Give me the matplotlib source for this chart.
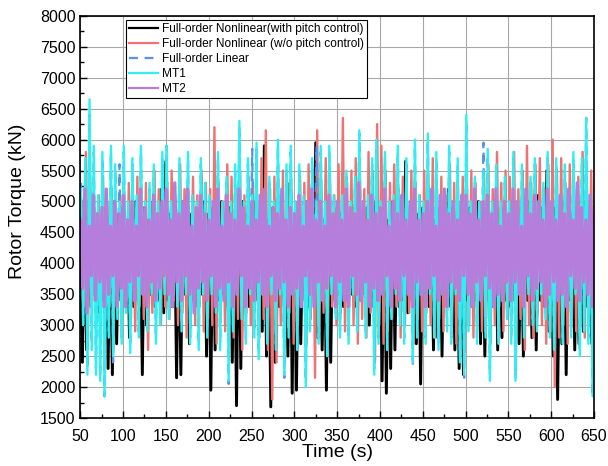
"""Rotor torque time histories: full-order nonlinear / linear models vs. MT1 and MT2."""
import matplotlib
matplotlib.use("Agg")
import matplotlib.pyplot as plt
import numpy as np
from matplotlib.ticker import MultipleLocator

# ── data: envelope, peak at t = 50 + 5k, trough at t = 52.5 + 5k
t_peak = [50 + 5 * k for k in range(121)]
t_trough = [52.5 + 5 * k for k in range(120)]

black_hi = [
    4800, 4900, 4700, 5000, 4800, 4600, 4900, 4700, 5000, 4800,
    4900, 4700, 4800, 5000, 4600, 4900, 4700, 5000, 4800, 5200,
    5650, 4800, 4900, 4700, 5000, 5200, 4800, 4700, 4900, 5000,
    4800, 4900, 4700, 5000, 4800, 4900, 4700, 5100, 5000, 4800,
    4900, 5000, 4800, 5900, 4700, 4900, 4800, 5000, 4700, 5300,
    4800, 4900, 4700, 5000, 4800, 5950, 4900, 4700, 5000, 4800,
    4900, 4800, 5000, 4700, 4900, 5100, 4800, 4900, 4700, 5000,
    4800, 4900, 4700, 5000, 4800, 4900, 5650, 4700, 5000, 4800,
    4900, 4800, 5000, 4700, 4900, 4800, 5200, 4900, 4700, 5000,
    4800, 4900, 4700, 5000, 4800, 4900, 4700, 5000, 4800, 4900,
    4700, 5000, 4800, 4900, 4700, 5000, 4800, 5100, 4900, 5500,
    4800, 4900, 4700, 5000, 5050, 4800, 4900, 4700, 5000, 4800,
    4600,
]
black_lo = [
    2400, 2600, 3300, 3500, 3200, 3400, 2300, 2200, 2700, 3400,
    3500, 2800, 3300, 3400, 2200, 3000, 3500, 3300, 3400, 3200,
    3400, 3300, 2150, 2200, 3500, 2700, 3400, 3300, 3500, 2500,
    1950, 2600, 3400, 3500, 3300, 2400, 1700, 2300, 3400, 3300,
    3500, 3400, 2900, 2500, 1680, 2400, 3300, 3400, 2500, 1900,
    1950, 2700, 3400, 3300, 3500, 2800, 2600, 1950, 2400, 3400,
    3500, 3300, 3400, 3500, 3300, 3400, 3500, 3000, 3300, 3400,
    2100, 1900, 2300, 2600, 3300, 3400, 3200, 3400, 2700, 2050,
    3400, 3300, 2600, 2800, 2500, 3400, 3300, 2600, 2300, 2200,
    3400, 3300, 3400, 2700, 2500, 3400, 3300, 2600, 2800, 3400,
    3300, 3400, 2700, 2500, 3400, 2800, 2600, 3400, 3300, 2900,
    2500, 1800, 2700, 2200, 3400, 2600, 2700, 2900, 3300, 2700,
]

red_hi = [
    5000, 5800, 5300, 4900, 5100, 5400, 5000, 5200, 4900, 5100,
    5000, 5300, 4900, 5400, 5100, 5300, 4800, 5500, 5200, 5000,
    5300, 5500, 5000, 5600, 5200, 4900, 5400, 5100, 5500, 5300,
    5200, 6200, 5300, 5000, 5600, 5400, 5200, 5500, 5100, 5400,
    5300, 5100, 5700, 6150, 5200, 5400, 5000, 5500, 5300, 5200,
    5000, 5400, 5300, 5600, 5500, 6150, 5200, 5700, 5400, 5100,
    5600, 6350, 5300, 5500, 5700, 5400, 5200, 5800, 5500, 6250,
    5900, 5500, 5300, 5600, 5200, 5400, 5000, 5500, 5300, 5100,
    5500, 5300, 5700, 5200, 5400, 5100, 5600, 5300, 5000, 5400,
    5200, 5500, 5300, 5000, 5400, 5600, 5200, 5800, 5300, 5500,
    5400, 5800, 5200, 5500, 5900, 5300, 5600, 5700, 5200, 5600,
    6000, 5500, 5700, 5300, 5600, 5200, 5400, 5800, 5300, 5500,
    6000,
]
red_lo = [
    3300, 3000, 3400, 3200, 3500, 3100, 3300, 2900, 3500, 3200,
    3400, 3100, 2900, 3300, 3100, 2600, 3200, 3400, 3000, 3300,
    3100, 3400, 3000, 3200, 2800, 3400, 3000, 3300, 2900, 3100,
    3000, 2700, 3200, 2900, 3300, 2800, 3100, 2600, 3200, 3000,
    3300, 2800, 3100, 2600, 1800, 2400, 3000, 2900, 3200, 2700,
    3000, 3300, 2700, 3100, 2150, 2900, 3200, 2800, 3300, 3000,
    3200, 2900, 3300, 3000, 2700, 3100, 2800, 3200, 2400, 3000,
    2700, 2900, 3100, 3300, 2800, 3000, 3200, 2700, 3100, 2900,
    3200, 3000, 2800, 3100, 2900, 3300, 3000, 2700, 3100, 3200,
    3000, 2800, 3200, 2900, 3100, 2700, 3000, 3300, 2900, 3100,
    3200, 2900, 3100, 2600, 3000, 2800, 3200, 3000, 2700, 2900,
    2000, 2800, 3000, 2700, 3100, 2900, 3200, 2800, 3000, 2800,
]

linear_hi = [
    5300, 5600, 6400, 5800, 5000, 5700, 4900, 5800, 5500, 5600,
    5800, 4900, 5600, 5000, 5800, 4900, 5200, 5500, 4900, 5700,
    5900, 4900, 5000, 5600, 4900, 5700, 5000, 4900, 5600, 5200,
    5000, 4900, 5700, 4900, 5300, 4900, 5500, 6200, 4900, 5600,
    5850, 5850, 4900, 5000, 5300, 4900, 5900, 4900, 5500, 5800,
    4900, 5500, 5000, 4900, 5600, 5900, 5800, 4900, 5800, 5000,
    4900, 5000, 5400, 4900, 5300, 6100, 4900, 5000, 5600, 5900,
    4900, 5700, 4900, 5000, 5800, 4900, 5600, 4900, 5900, 5000,
    4900, 6000, 4900, 5700, 5000, 4900, 5800, 4900, 5600, 4900,
    6300, 4900, 5300, 4900, 5950, 5750, 4900, 5500, 4900, 5300,
    4900, 5700, 4900, 5500, 4900, 5300, 5600, 4900, 5200, 5700,
    4900, 5600, 4900, 5500, 4900, 5700, 4900, 5600, 6350, 4900,
    5200,
]
linear_lo = [
    3100, 2300, 2700, 2300, 2200, 1850, 2900, 2400, 3200, 2800,
    3300, 2650, 3600, 2900, 3600, 3000, 3600, 2800, 3100, 3600,
    3200, 3600, 3400, 3000, 3600, 2800, 3600, 2700, 3600, 2900,
    3600, 3300, 2700, 3600, 2050, 3000, 3600, 3200, 2800, 3600,
    2900, 2550, 3600, 2800, 3600, 2700, 3600, 2150, 2900, 3600,
    2700, 3600, 2100, 3000, 3600, 2800, 3600, 2600, 3600, 3200,
    2900, 3600, 2800, 3600, 3000, 3600, 2900, 3600, 2300, 2800,
    3600, 2700, 3200, 3600, 3100, 2800, 3600, 2350, 2900, 3600,
    2800, 3600, 2900, 2700, 3600, 3000, 2800, 3600, 2500, 2150,
    3000, 3600, 2800, 3600, 2900, 2200, 3600, 2800, 3600, 3200,
    2800, 2150, 3600, 2900, 3600, 3100, 3000, 3600, 3200, 2900,
    2700, 3600, 2800, 3600, 2900, 3600, 2600, 3000, 2800, 1850,
]

mt1_hi = [
    5200, 5700, 6650, 5900, 5100, 5800, 5000, 5900, 5600, 5000,
    5900, 5000, 5700, 5100, 5900, 5000, 5300, 5600, 5000, 5800,
    5900, 5000, 5100, 5700, 5000, 5800, 5100, 5000, 5700, 5300,
    5100, 5000, 5800, 5000, 5400, 5000, 5600, 6300, 5000, 5700,
    5100, 5950, 5000, 5100, 5400, 5000, 6000, 5000, 5600, 5900,
    5000, 5600, 5100, 5000, 5700, 5000, 5900, 5000, 5900, 5100,
    5000, 5100, 5500, 5000, 5400, 6150, 5000, 5100, 5700, 6000,
    5000, 5800, 5000, 5100, 5900, 5000, 5700, 5000, 6000, 5100,
    5000, 6100, 5000, 5800, 5100, 5000, 5900, 5000, 5700, 5000,
    6400, 5000, 5400, 5000, 5500, 5850, 5000, 5600, 5000, 5400,
    5000, 5800, 5000, 5600, 5000, 5400, 5700, 5000, 5300, 5800,
    5000, 5700, 5000, 5600, 5000, 5800, 5000, 5700, 6350, 5000,
    5300,
]
mt1_lo = [
    3000, 2200, 2600, 2200, 2100, 1850, 2800, 2500, 3100, 2700,
    3200, 2550, 3500, 2800, 3500, 2900, 3500, 2700, 3000, 3500,
    3100, 3500, 3300, 2900, 3500, 2700, 3500, 2600, 3500, 2800,
    3500, 3200, 2600, 3500, 2100, 2900, 3500, 3100, 2700, 3500,
    2800, 2450, 3500, 2700, 3500, 2600, 3500, 2200, 2800, 3500,
    2600, 3500, 2000, 2900, 3500, 2700, 3500, 2500, 3500, 3100,
    2800, 3500, 2700, 3500, 2900, 3500, 2800, 3500, 2200, 2700,
    3500, 2600, 3100, 3500, 3000, 2700, 3500, 2400, 2800, 3500,
    2700, 3500, 2800, 2600, 3500, 2900, 2700, 3500, 2400, 2200,
    2900, 3500, 2700, 3500, 2800, 2100, 3500, 2700, 3500, 3100,
    2700, 2100, 3500, 2800, 3500, 3000, 2900, 3500, 3100, 2800,
    2600, 3500, 2700, 3500, 2800, 3500, 2500, 2900, 2700, 1850,
]

mt2_hi = [
    4700, 5200, 4600, 5100, 4800, 4900, 5200, 4600, 5000, 4800,
    5100, 4700, 5000, 4600, 5200, 4900, 4700, 5100, 4800, 5000,
    5200, 4700, 5300, 4800, 5000, 5200, 4600, 4900, 5100, 4800,
    4700, 5000, 5200, 4600, 5100, 4800, 4700, 5200, 4900, 4600,
    5000, 4700, 5100, 5200, 4600, 4900, 4800, 5200, 4700, 4900,
    4800, 5100, 4600, 5000, 5200, 4700, 5000, 4600, 5100, 4800,
    5000, 4700, 5200, 4900, 4800, 5300, 5000, 4700, 5100, 4800,
    4900, 5200, 4600, 5000, 4800, 5100, 4700, 5000, 5200, 4700,
    4800, 5000, 5200, 4600, 5100, 5200, 4800, 5000, 4700, 5100,
    5100, 4800, 5200, 4700, 5000, 5100, 4800, 5200, 4600, 5000,
    4800, 5200, 5000, 4600, 5200, 4800, 5100, 5000, 4700, 5200,
    5000, 4700, 5100, 4800, 5200, 4700, 5300, 4900, 4700, 5100,
    4900,
]
mt2_lo = [
    3600, 3200, 3800, 3400, 3700, 3300, 3500, 3800, 3300, 3600,
    3300, 3700, 3400, 3800, 3500, 3300, 3700, 3400, 3600, 3800,
    3500, 3300, 3700, 3400, 3800, 3500, 3200, 3600, 3700, 3400,
    3800, 3300, 3600, 3400, 3700, 3300, 3500, 3800, 3300, 3600,
    3400, 3700, 3500, 3300, 3800, 3400, 3600, 3700, 3300, 3500,
    3600, 3300, 3800, 3500, 3300, 3700, 3400, 3600, 3800, 3300,
    3700, 3400, 3300, 3800, 3500, 3400, 3700, 3300, 3600, 3400,
    3500, 3800, 3300, 3600, 3400, 3800, 3500, 3300, 3700, 3500,
    3300, 3600, 3800, 3400, 3500, 3300, 3700, 3600, 3400, 3800,
    3500, 3300, 3700, 3400, 3800, 3600, 3300, 3500, 3400, 3700,
    3400, 3700, 3500, 3300, 3800, 3400, 3600, 3700, 3300, 3500,
    3700, 3400, 3500, 3300, 3800, 3600, 3400, 3700, 3500, 3300,
]


def zigzag(hi, lo, lag):
    """Interleave peaks and troughs into one time series (lag in s)."""
    t = np.empty(len(hi) + len(lo))
    y = np.empty_like(t)
    t[0::2] = np.asarray(t_peak) + lag
    t[1::2] = np.asarray(t_trough) + lag
    y[0::2], y[1::2] = hi, lo
    return t, y


plt.rcParams["font.family"] = ["Liberation Sans", "DejaVu Sans"]

fig, ax = plt.subplots(figsize=(6.08, 4.66), dpi=100)
fig.subplots_adjust(left=0.132, right=0.977, bottom=0.103, top=0.966)

# (hi, lo, label, colour, linestyle, width, sample lag)
series = [
    (black_hi, black_lo, "Full-order Nonlinear(with pitch control)", "#000000", "-", 2.1, 0.0),
    (red_hi, red_lo, "Full-order Nonlinear (w/o pitch control)", "#F07272", "-", 1.7, 1.7),
    (linear_hi, linear_lo, "Full-order Linear", "#5A8FEA", (0, (4, 3)), 1.6, 0.85),
    (mt1_hi, mt1_lo, "MT1", "#2EF0F0", "-", 1.7, 0.85),
    (mt2_hi, mt2_lo, "MT2", "#B67EDC", "-", 2.4, 0.4),
]
for hi, lo, label, color, ls, lw, lag in series:
    t, y = zigzag(hi, lo, lag)
    ax.plot(t, y, color=color, ls=ls, lw=lw, label=label)

ax.set_xlim(50, 650)
ax.set_ylim(1500, 8000)
ax.xaxis.set_major_locator(MultipleLocator(50))
ax.xaxis.set_minor_locator(MultipleLocator(25))
ax.yaxis.set_major_locator(MultipleLocator(500))
ax.yaxis.set_minor_locator(MultipleLocator(250))
ax.grid(True, which="major", color="#a8a8a8", lw=0.8)
ax.set_axisbelow(True)
ax.tick_params(which="both", direction="in", labelsize=11.5)
ax.tick_params(which="major", length=5, width=1)
ax.tick_params(which="minor", length=3, width=1)
ax.tick_params(axis="x", which="major", pad=8)
for sp in ax.spines.values():
    sp.set_linewidth(1.2)

ax.set_xlabel("Time (s)", fontsize=14, labelpad=0)
ax.set_ylabel("Rotor Torque (kN)", fontsize=14, labelpad=5)
ax.yaxis.set_label_coords(-0.105, 0.54)

leg = ax.legend(loc="upper left", bbox_to_anchor=(0.09, 0.99), borderaxespad=0,
                fontsize=8.6, handlelength=2.4, handletextpad=0.3,
                labelspacing=0.25, fancybox=False, framealpha=1,
                edgecolor="black", borderpad=0.25)
leg.get_frame().set_linewidth(0.8)
for line in leg.get_lines():
    line.set_linewidth(1.6)

fig.savefig("out.png", dpi=100)
